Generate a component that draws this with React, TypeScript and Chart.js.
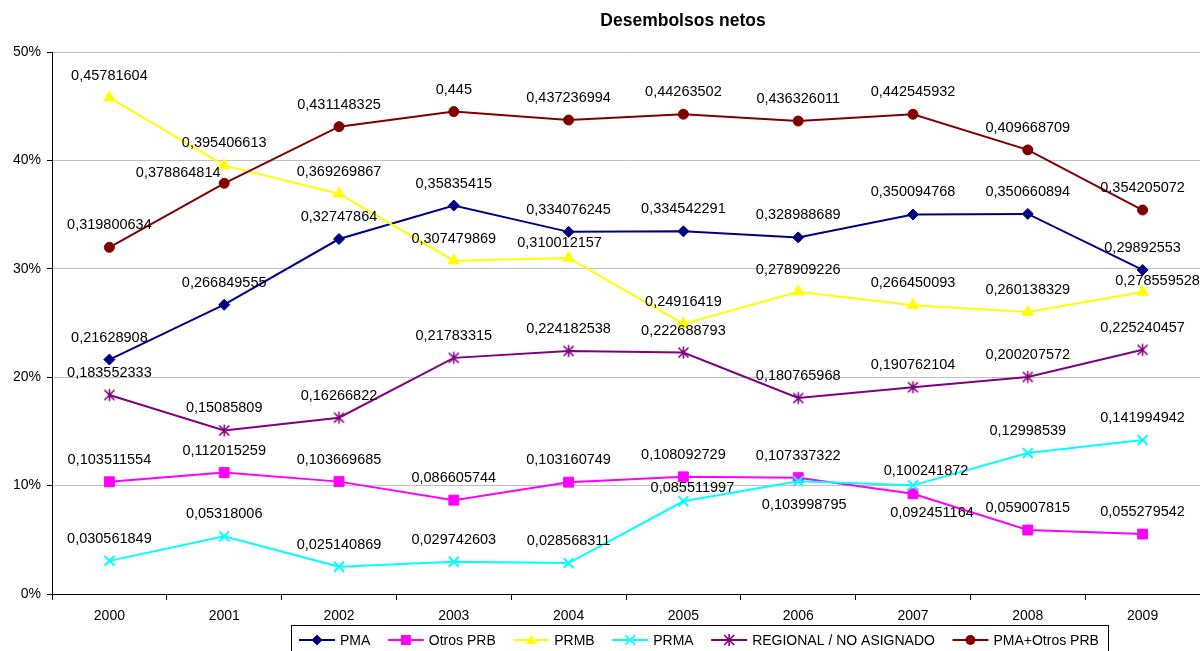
import React, { useEffect, useRef } from 'react';
import { Chart, registerables } from 'chart.js';

Chart.register(...registerables);

const years = ['2000', '2001', '2002', '2003', '2004', '2005', '2006', '2007', '2008', '2009'];
const pma = [0.21628908, 0.266849555, 0.32747864, 0.35835415, 0.334076245, 0.334542291, 0.328988689, 0.350094768, 0.350660894, 0.29892553];
const otrosPrb = [0.103511554, 0.112015259, 0.103669685, 0.086605744, 0.103160749, 0.108092729, 0.107337322, 0.092451164, 0.059007815, 0.055279542];
const prmb = [0.45781604, 0.395406613, 0.369269867, 0.307479869, 0.310012157, 0.24916419, 0.278909226, 0.266450093, 0.260138329, 0.278559528];
const prma = [0.030561849, 0.05318006, 0.025140869, 0.029742603, 0.028568311, 0.085511997, 0.103998795, 0.100241872, 0.12998539, 0.141994942];
const regional = [0.183552333, 0.15085809, 0.16266822, 0.21783315, 0.224182538, 0.222688793, 0.180765968, 0.190762104, 0.200207572, 0.225240457];
const pmaOtros = [0.319800634, 0.378864814, 0.431148325, 0.445, 0.437236994, 0.44263502, 0.436326011, 0.442545932, 0.409668709, 0.354205072];
const seriesNames = ['PMA', 'Otros PRB', 'PRMB', 'PRMA', 'REGIONAL / NO ASIGNADO', 'PMA+Otros PRB'];
const yMin = 0;
const yMax = 0.5;
const yStep = 0.1;
const titleText = 'Desembolsos netos';

const FONT = "'Liberation Sans', Arial, sans-serif";
const colors = ['#000080', '#FF00FF', '#FFFF00', '#00FFFF', '#800080', '#800000'];
const markerKinds = ['diamond', 'square', 'triangle', 'x', 'asterisk', 'circle'];

// label nudges (dx, dy) relative to the point; default is straight above
const defaultNudge: [number, number] = [0, -22];
const labelNudges: Record<string, [number, number]> = {
  '5-1': [-46, -10],
  '3-7': [13, -14],
  '1-7': [19, 19],
  '3-5': [9, -13],
  '3-6': [6, 24],
  '2-4': [-9, -15],
  '2-9': [15, -11],
};

function drawMarker(ctx: CanvasRenderingContext2D, kind: string, x: number, y: number, color: string) {
  ctx.save();
  ctx.fillStyle = color;
  ctx.strokeStyle = color;
  ctx.lineWidth = 1.6;
  ctx.beginPath();
  if (kind === 'diamond') {
    const r = 5.5;
    ctx.moveTo(x - r, y); ctx.lineTo(x, y - r); ctx.lineTo(x + r, y); ctx.lineTo(x, y + r); ctx.closePath(); ctx.fill();
  } else if (kind === 'square') {
    ctx.rect(x - 5, y - 5, 10, 10); ctx.fill();
  } else if (kind === 'triangle') {
    ctx.moveTo(x - 5.5, y + 4); ctx.lineTo(x + 5.5, y + 4); ctx.lineTo(x, y - 5.5); ctx.closePath(); ctx.fill();
  } else if (kind === 'x') {
    ctx.moveTo(x - 5, y - 5); ctx.lineTo(x + 5, y + 5); ctx.moveTo(x + 5, y - 5); ctx.lineTo(x - 5, y + 5); ctx.stroke();
  } else if (kind === 'asterisk') {
    ctx.moveTo(x, y - 6); ctx.lineTo(x, y + 6); ctx.moveTo(x - 5, y - 5); ctx.lineTo(x + 5, y + 5); ctx.moveTo(x + 5, y - 5); ctx.lineTo(x - 5, y + 5); ctx.stroke();
  } else {
    ctx.arc(x, y, 5, 0, Math.PI * 2); ctx.fill();
  }
  ctx.restore();
}

export default function App() {
  const ref = useRef<HTMLCanvasElement | null>(null);

  useEffect(() => {
    document.body.style.margin = '0';
    document.body.style.overflow = 'hidden';
    document.documentElement.style.overflow = 'hidden';
    if (!ref.current) return;

    const star = document.createElement('canvas');
    star.width = 15; star.height = 15;
    const sc = star.getContext('2d')!;
    drawMarker(sc, 'asterisk', 7.5, 7.5, colors[4]);

    const seriesData = [pma, otrosPrb, prmb, prma, regional, pmaOtros];
    const pointStyles: any[] = ['rectRot', 'rect', 'triangle', 'crossRot', star, 'circle'];
    const pointRadii = [5.5, 7, 6.5, 7, 7, 5];

    const overlay = {
      id: 'overlay',
      afterDatasetsDraw(chart: any) {
        const ctx: CanvasRenderingContext2D = chart.ctx;
        ctx.save();
        ctx.font = `14.5px ${FONT}`;
        ctx.fillStyle = '#000';
        ctx.textAlign = 'center';
        ctx.textBaseline = 'middle';
        chart.data.datasets.forEach((ds: any, di: number) => {
          const meta = chart.getDatasetMeta(di);
          meta.data.forEach((pt: any, i: number) => {
            const v = ds.data[i];
            const [dx, dy] = labelNudges[`${di}-${i}`] || defaultNudge;
            ctx.fillText(String(v).replace('.', ','), pt.x + dx, pt.y + dy);
          });
        });
        ctx.restore();
      },
      afterDraw(chart: any) {
        const ctx: CanvasRenderingContext2D = chart.ctx;
        ctx.save();
        // title
        ctx.font = `bold 17.5px ${FONT}`;
        ctx.fillStyle = '#000';
        ctx.textAlign = 'center';
        ctx.textBaseline = 'middle';
        ctx.fillText(titleText, 683, 21);
        // legend
        ctx.font = `14px ${FONT}`;
        ctx.textAlign = 'left';
        ctx.strokeStyle = '#000';
        ctx.lineWidth = 1;
        ctx.strokeRect(291.5, 625.5, 817, 30);
        let x = 299;
        const ly = 640;
        seriesNames.forEach((name, i) => {
          ctx.strokeStyle = colors[i];
          ctx.lineWidth = 2;
          ctx.beginPath();
          ctx.moveTo(x, ly); ctx.lineTo(x + 36, ly); ctx.stroke();
          drawMarker(ctx, markerKinds[i], x + 18, ly, colors[i]);
          ctx.fillStyle = '#000';
          ctx.fillText(name, x + 41, ly + 1);
          x += 41 + ctx.measureText(name).width + 17.5;
        });
        ctx.restore();
      },
    };

    const chart = new Chart(ref.current, {
      type: 'line',
      data: {
        labels: years,
        datasets: seriesData.map((d, i) => ({
          label: seriesNames[i],
          data: d,
          borderColor: colors[i],
          backgroundColor: colors[i],
          borderWidth: 2,
          pointStyle: pointStyles[i],
          pointRadius: pointRadii[i],
          pointBorderWidth: i === 3 ? 2 : 1,
          pointBackgroundColor: colors[i],
          pointBorderColor: colors[i],
          tension: 0,
          fill: false,
          clip: false as any,
          order: -i,
        })),
      },
      options: {
        animation: false,
        responsive: true,
        maintainAspectRatio: false,
        layout: { autoPadding: false, padding: { top: 52, left: 0, right: 0, bottom: 0 } },
        plugins: {
          legend: { display: false },
          title: { display: false },
          tooltip: { enabled: false },
        },
        scales: {
          x: {
            type: 'category',
            offset: true,
            grid: { offset: true, drawOnChartArea: false, tickLength: 6, tickColor: '#000', color: '#000' },
            border: { color: '#000', width: 1 },
            ticks: { color: '#000', font: { family: FONT, size: 14 }, padding: 8, maxRotation: 0, autoSkip: false },
            afterFit: (s: any) => { s.height = 57; s.paddingLeft = 0; s.paddingRight = 0; },
          },
          y: {
            min: yMin,
            max: yMax,
            grid: { color: '#c0c0c0', tickColor: '#000', tickLength: 5, lineWidth: 1 },
            border: { color: '#000', width: 1 },
            ticks: {
              stepSize: yStep,
              color: '#000',
              padding: 6,
              font: { family: FONT, size: 14 },
              callback: (v: any) => `${Math.round(Number(v) * 100)}%`,
            },
            afterFit: (s: any) => { s.width = 52; s.paddingTop = 0; s.paddingBottom = 0; },
          },
        },
      },
      plugins: [overlay],
    });
    return () => chart.destroy();
  }, []);

  return (
    <div style={{ width: 1200, height: 651, position: 'relative', background: '#fff', overflow: 'hidden' }}>
      <canvas ref={ref} style={{ display: 'block' }} />
    </div>
  );
}
